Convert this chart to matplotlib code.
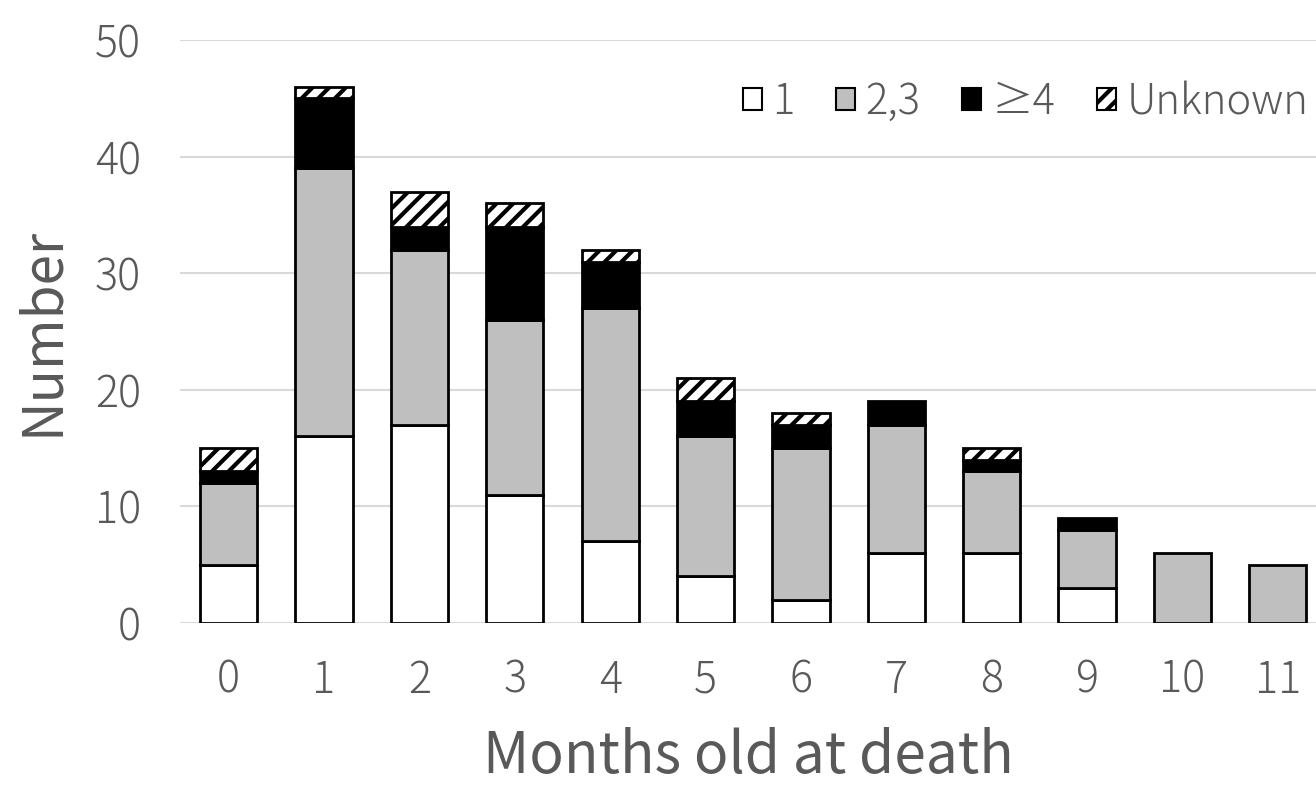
import matplotlib
matplotlib.use("Agg")
import matplotlib.pyplot as plt
import numpy as np

months = ["0", "1", "2", "3", "4", "5", "6", "7", "8", "9", "10", "11"]
s1 = [5, 16, 17, 11, 7, 4, 2, 6, 6, 3, 0, 0]
s23 = [7, 23, 15, 15, 20, 12, 13, 11, 7, 5, 6, 5]
s4 = [1, 6, 2, 8, 4, 3, 2, 2, 1, 1, 0, 0]
sunk = [2, 1, 3, 2, 1, 2, 1, 0, 1, 0, 0, 0]
series_labels = ["1", "2,3", "≥4", "Unknown"]
yticks = [0, 10, 20, 30, 40, 50]

plt.rcParams['hatch.linewidth'] = 3.0
plt.rcParams['font.family'] = ['Noto Sans CJK JP', 'DejaVu Sans']
plt.rcParams['font.weight'] = 'light'

fig = plt.figure(figsize=(13.16, 7.86), dpi=100)
ax = fig.add_axes([0.1368, 0.2074, 1 - 0.1368, 0.949 - 0.2074])

x = np.arange(len(months))
w = 0.6
b = np.zeros(len(months))
styles = [
    dict(color="white", hatch=None),
    dict(color="#bfbfbf", hatch=None),
    dict(color="black", hatch=None),
    dict(color="white", hatch="//"),
]
for vals, lab, st in zip([s1, s23, s4, sunk], series_labels, styles):
    vals = np.array(vals, dtype=float)
    mask = vals > 0
    ax.bar(x[mask], vals[mask], w, bottom=b[mask], color=st["color"],
           edgecolor="black", linewidth=2.0, hatch=st["hatch"], zorder=3)
    ax.bar([0], [0], 0, color=st["color"], edgecolor="black", linewidth=1.5,
           hatch=st["hatch"], label=lab)
    b = b + vals

ax.set_xlim(-0.51, 11.4)
ax.set_ylim(0, 50)
ax.set_yticks(yticks)
ax.set_xticks(x)
ax.set_xticklabels(months)
ax.grid(axis="y", color="#d9d9d9", linewidth=1.5, zorder=0)
ax.set_axisbelow(True)
for sp in ax.spines.values():
    sp.set_visible(False)
ax.tick_params(axis="both", length=0, labelsize=31, colors="#595959")
ax.tick_params(axis="y", pad=28)
ax.tick_params(axis="x", pad=25)
ax.set_xlabel("Months old at death", fontsize=41, color="#595959", labelpad=18)
ax.set_ylabel("Number", fontsize=39.5, color="#595959", labelpad=17)

leg = ax.legend(loc="upper right", bbox_to_anchor=(1.026, 0.995), ncol=4, frameon=False,
                fontsize=30, handlelength=0.45, handleheight=0.45, handletextpad=0.25,
                columnspacing=1.0, labelcolor="#595959")

fig.savefig("out.png", dpi=100)
